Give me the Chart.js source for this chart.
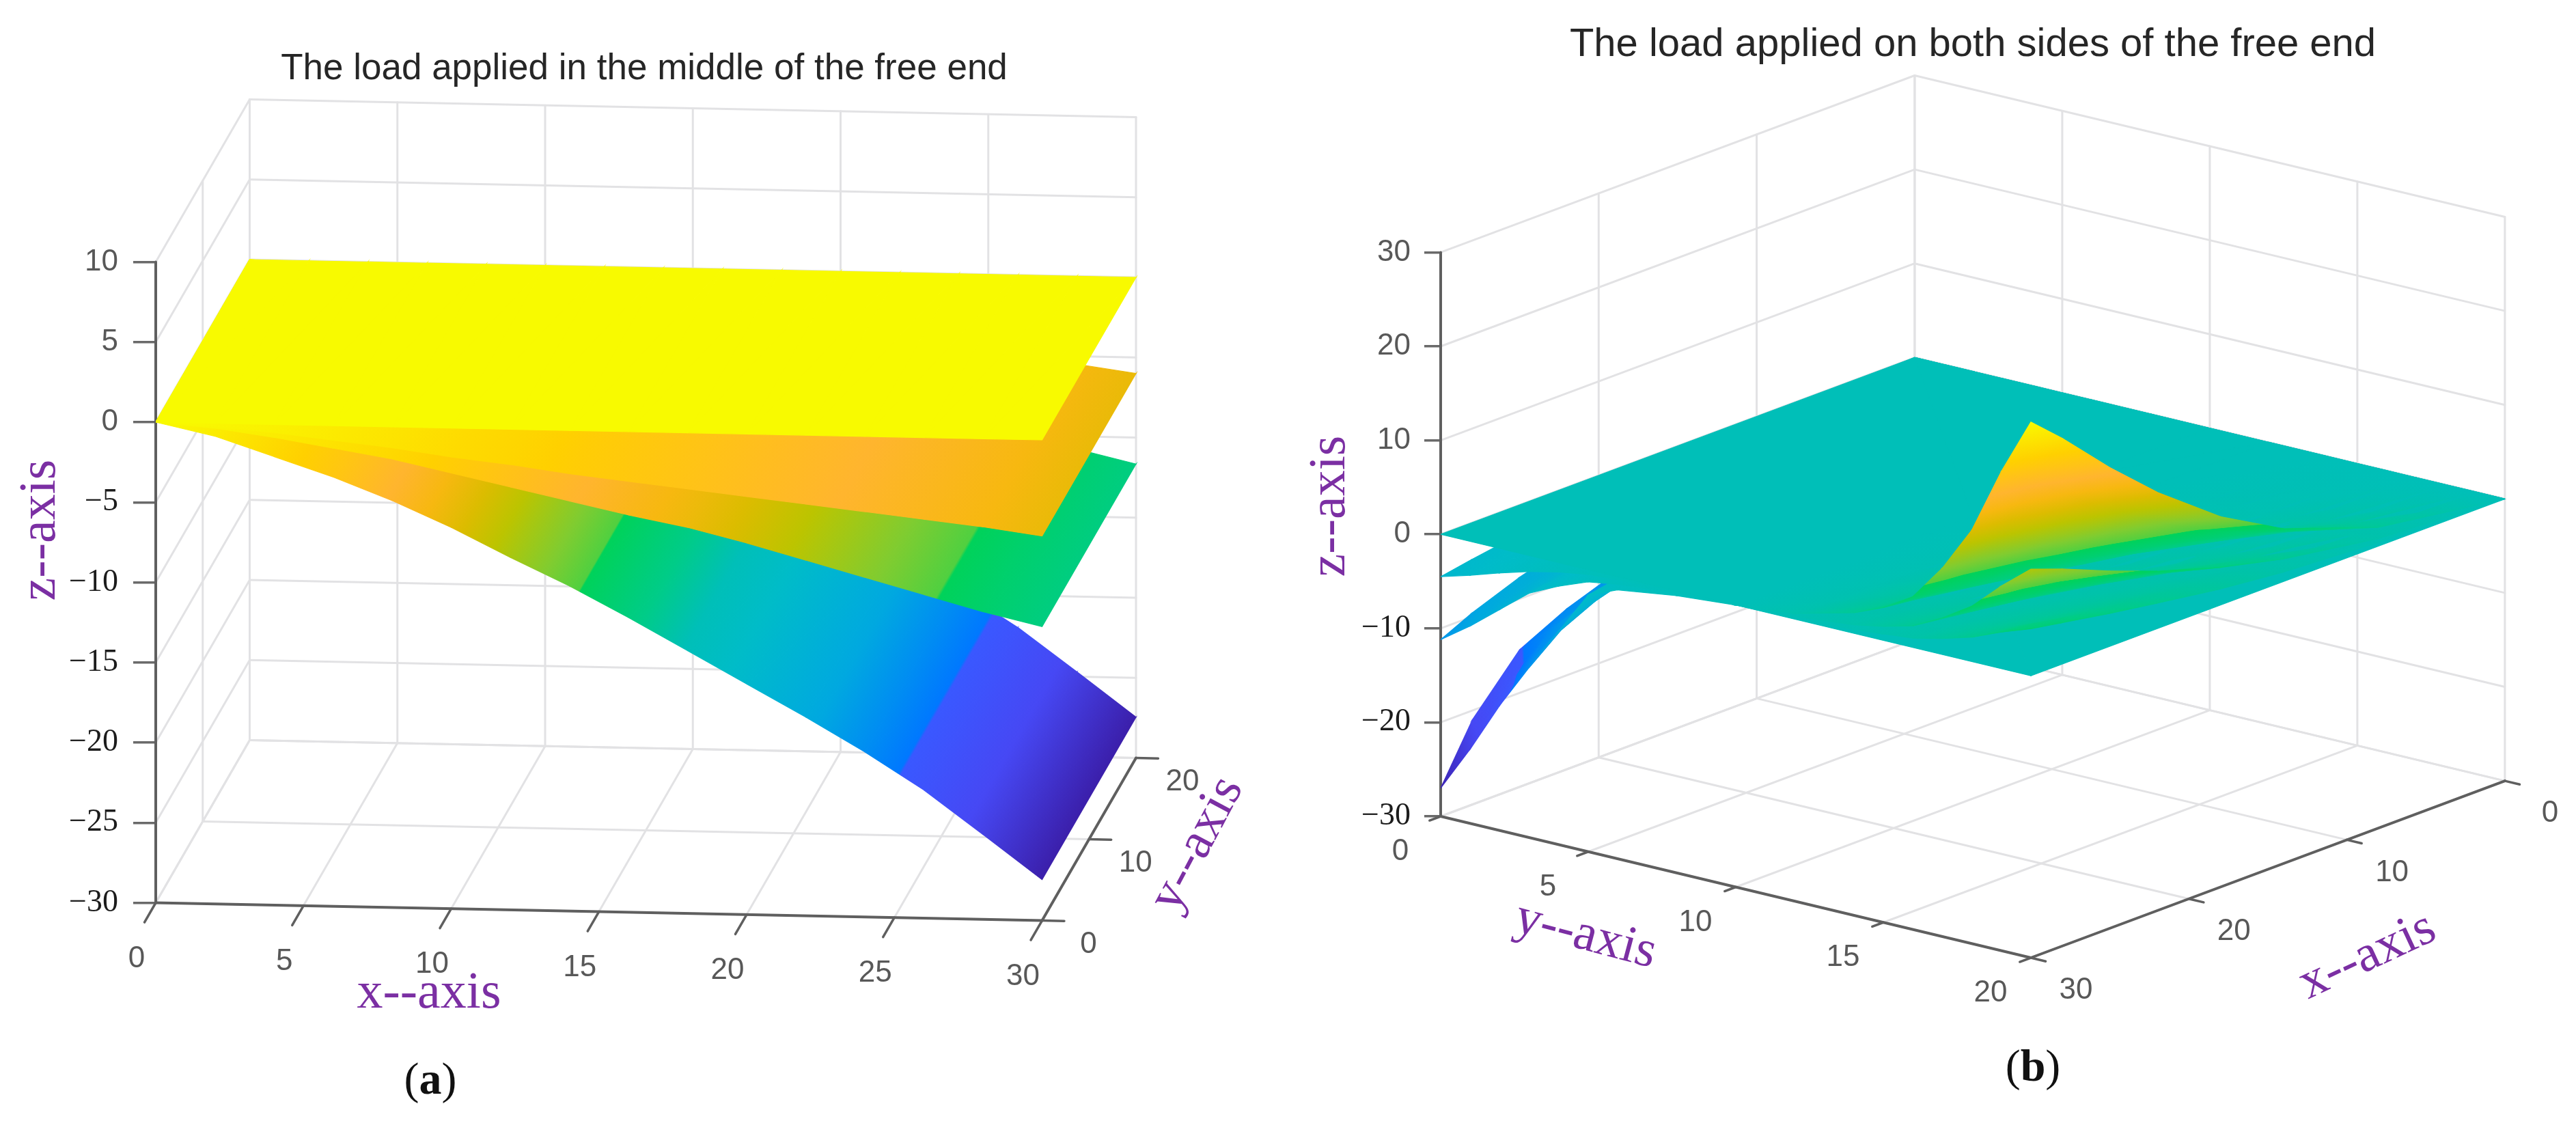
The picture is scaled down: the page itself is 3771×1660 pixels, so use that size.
<!DOCTYPE html>
<html><head><meta charset="utf-8">
<script src="https://cdn.jsdelivr.net/npm/chart.js@4"></script>
<style>html,body{margin:0;padding:0;background:#fff;width:3771px;height:1660px;overflow:hidden}
canvas{position:absolute;top:0}</style></head><body>
<canvas id="pa" width="1886" height="1660" style="left:0"></canvas>
<canvas id="pb" width="1976" height="1660" style="left:1900px"></canvas>
<script>
// ---------- text ----------
const titleA = "The load applied in the middle of the free end";
const titleB = "The load applied on both sides of the free end";
// ---------- tick values ----------
const xTicksA = [0,5,10,15,20,25,30];
const yTicksA = [0,10,20];
const zTicksA = [-30,-25,-20,-15,-10,-5,0,5,10];
const xTicksB = [0,10,20,30];
const yTicksB = [0,5,10,15,20];
const zTicksB = [-30,-20,-10,0,10,20,30];
// ---------- panel (a): deflection z along x, uniform over y ----------
const xStationsA = [0,2,4,6,8,10,12,14,16,18,20,22,24,26,28,30];
const yEdgesA = [0,20];
const aSheet1 = [0,0,0,0,0,0,0,0,0,0,0,0,0,0,0,0];
const aSheet2 = [0,-.2,-.5,-.9,-1.3,-1.8,-2.2,-2.7,-3.1,-3.5,-3.9,-4.3,-4.7,-5.1,-5.5,-6];
const aSheet3 = [0,-.3,-.8,-1.4,-2,-2.8,-3.6,-4.4,-5.2,-5.9,-6.8,-7.8,-8.8,-9.8,-10.8,-11.65];
const aSheet4 = [0,-.8,-2,-3.2,-4.6,-6.2,-8,-9.7,-11.6,-13.6,-15.6,-17.6,-19.7,-22,-24.7,-27.45];
// ---------- panel (b): z by distance from the loaded edge (rows) and x (columns) ----------
const xStationsB = [0,8,14,18,22,25,28,30];
const edgeDistB = [0,1,2,3,4,5,6,8,10];
const bNeg4 = [[0,-2,-6,-10.5,-12.9,-15.4,-21,-27],[0,-1.6,-4.9,-8.6,-10.6,-12.6,-17.2,-22.1],[0,-1.2,-3.7,-6.5,-8,-9.5,-13,-16.7],[0,-.9,-2.6,-4.6,-5.7,-6.8,-9.2,-11.9],[0,-.5,-1.6,-2.8,-3.5,-4.2,-5.7,-7.3],[0,-.2,-.6,-1.1,-1.3,-1.5,-2.1,-2.7],[0,-.1,-.3,-.5,-.6,-.8,-1,-1.4],[0,0,-.1,-.2,-.3,-.3,-.4,-.5],[0,0,0,0,0,0,0,0]];
const bNeg3 = [[0,-.8,-2.5,-4.4,-6.2,-7.7,-9.6,-11.2],[0,-.6,-2,-3.5,-5,-6.2,-7.7,-9],[0,-.5,-1.5,-2.6,-3.6,-4.5,-5.6,-6.5],[0,-.3,-.9,-1.6,-2.2,-2.8,-3.5,-4],[0,-.2,-.6,-1,-1.4,-1.7,-2.1,-2.5],[0,-.1,-.3,-.5,-.7,-.9,-1.2,-1.3],[0,-.1,-.2,-.3,-.4,-.5,-.7,-.8],[0,0,-.1,-.1,-.1,-.2,-.2,-.2],[0,0,0,0,0,0,0,0]];
const bNeg2 = [[0,-.3,-1,-1.8,-2.5,-3.1,-3.9,-4.5],[0,-.3,-.8,-1.4,-2,-2.5,-3.1,-3.6],[0,-.2,-.6,-1,-1.4,-1.8,-2.2,-2.6],[0,-.1,-.4,-.7,-.9,-1.1,-1.4,-1.7],[0,-.1,-.2,-.4,-.6,-.7,-.9,-1],[0,0,-.1,-.2,-.3,-.4,-.5,-.5],[0,0,-.1,-.1,-.2,-.2,-.3,-.3],[0,0,0,0,-.1,-.1,-.1,-.1],[0,0,0,0,0,0,0,0]];
const bPos4 = [[0,2,5.6,9.4,14.5,19,24,27],[0,1.6,4.4,7.3,11.3,14.8,18.7,21],[0,1,2.9,4.9,7.5,9.9,12.5,14],[0,.7,1.9,3.2,4.9,6.5,8.2,9.2],[0,.4,1.1,1.9,2.9,3.8,4.8,5.4],[0,.3,.7,1.2,1.9,2.5,3.1,3.5],[0,.2,.4,.8,1.2,1.5,1.9,2.2],[0,0,.1,.2,.3,.4,.5,.6],[0,0,0,0,0,0,0,0]];
const bPos3 = [[0,.8,2.4,4,6.1,8,10.1,11.35],[0,.7,1.8,3.1,4.8,6.2,7.9,8.8],[0,.4,1.2,2.1,3.2,4.2,5.3,5.9],[0,.3,.8,1.3,2.1,2.7,3.4,3.9],[0,.2,.5,.8,1.2,1.6,2,2.3],[0,.1,.3,.5,.8,1,1.3,1.5],[0,.1,.2,.3,.5,.6,.8,.9],[0,0,0,.1,.1,.2,.2,.3],[0,0,0,0,0,0,0,0]];
const bPos2 = [[0,.4,1,1.7,2.7,3.5,4.4,5],[0,.3,.8,1.4,2.1,2.7,3.5,3.9],[0,.2,.5,.9,1.4,1.8,2.3,2.6],[0,.1,.4,.6,.9,1.2,1.5,1.7],[0,.1,.2,.4,.5,.7,.9,1],[0,.1,.1,.2,.4,.5,.6,.7],[0,0,.1,.1,.2,.3,.4,.4],[0,0,0,0,.1,.1,.1,.1],[0,0,0,0,0,0,0,0]];
// ---------- colour map ----------
const cmapLevels = [-27.5,-24,-21.1,-21,-18,-15,-13.5,-12,-10.05,-10,-9,-7.5,-6.5,-5.5,-4.5,-2.5,-1,0];
const cmapColors = ['#3b1eaa','#4648f4','#3a58ff','#0078ff','#00a8e0','#00bcc8','#00bfb8','#00cc88','#00d25a','#50d040','#80cc30','#bcc400','#dcbc00','#f7b810','#ffb52e','#ffd000','#fce800','#f8fa00'];

const GRID='#e2e2e4', AXIS='#5f5f5f', PURPLE='#7b2fa3', TICKTXT='#585858';

function hex(c){return [1,3,5].map(i=>parseInt(c.substr(i,2),16));}
function cmapAt(v){
  if(v<=cmapLevels[0])return cmapColors[0];
  const n=cmapLevels.length;
  if(v>=cmapLevels[n-1])return cmapColors[n-1];
  for(let i=0;i<n-1;i++){
    if(v<=cmapLevels[i+1]){
      const t=(v-cmapLevels[i])/(cmapLevels[i+1]-cmapLevels[i]);
      const a=hex(cmapColors[i]),b=hex(cmapColors[i+1]);
      return 'rgb('+a.map((q,k)=>Math.round(q+(b[k]-q)*t)).join(',')+')';
    }
  }
}
// a view: how a unit of each data axis projects onto the page
const viewA={canvasLeft:0,right:1886,chartTop:140,chartBottom:1460,ox:228,oy:1321.5,x0:0,xdx:43.25,xdy:.867,ydx:6.875,ydy:-11.9,zs:23.45,
  colour:z=>z};
const viewB={canvasLeft:1900,right:3876,chartTop:102,chartBottom:1460,ox:2109,oy:1195,x0:30,xdx:-23.13,xdy:8.63,ydx:43.2,ydy:10.35,zs:13.76,
  colour:z=>(z-27)/2};
function proj(v,x,y,z){
  const dx=x-v.x0;
  return {x:v.ox+dx*v.xdx+y*v.ydx, y:z-(dx*v.xdy+y*v.ydy)/v.zs};
}
function seg(v,a,b,color,width){
  return {data:[proj(v,a[0],a[1],a[2]),proj(v,b[0],b[1],b[2])],showLine:true,borderColor:color,borderWidth:width,
    pointRadius:0,fill:false,clip:false,borderCapStyle:'round'};
}
function triFill(v,t,zs){
  return function(c){
    const ch=c.chart,sx=ch.scales.x,sy=ch.scales.y;
    const zmin=Math.min(...zs),zmax=Math.max(...zs);
    const mean=(zs[0]+zs[1]+zs[2])/3;
    if(!sx||!sy||!ch.chartArea)return cmapAt(v.colour(mean));
    const P=t.map(p=>[sx.getPixelForValue(p.x),sy.getPixelForValue(p.y)]);
    const ax=P[1][0]-P[0][0],ay=P[1][1]-P[0][1],bx=P[2][0]-P[0][0],by=P[2][1]-P[0][1];
    const det=ax*by-ay*bx;
    if(!Number.isFinite(det)||Math.abs(det)<1e-3||zmax-zmin<1e-6)return cmapAt(v.colour(mean));
    const d1=zs[1]-zs[0],d2=zs[2]-zs[0];
    const gx=(d1*by-d2*ay)/det,gy=(ax*d2-bx*d1)/det,g2=gx*gx+gy*gy;
    const s=(zmin-zs[0])/g2,e=(zmax-zs[0])/g2;
    const co=[P[0][0]+gx*s,P[0][1]+gy*s,P[0][0]+gx*e,P[0][1]+gy*e];
    if(!co.every(Number.isFinite))return cmapAt(v.colour(mean));
    const gr=ch.ctx.createLinearGradient(co[0],co[1],co[2],co[3]);
    const cmin=v.colour(zmin),cmax=v.colour(zmax);
    gr.addColorStop(0,cmapAt(cmin));
    cmapLevels.forEach((l,i)=>{if(l>cmin&&l<cmax)gr.addColorStop((l-cmin)/(cmax-cmin),cmapColors[i]);});
    gr.addColorStop(1,cmapAt(cmax));
    return gr;
  };
}
function tri(v,a,b,c){
  const t=[proj(v,...a),proj(v,...b),proj(v,...c)];
  const zs=[a[2],b[2],c[2]];
  const f=triFill(v,t,zs);
  // nearness to the camera along the viewing direction, used for back-to-front painting
  const near=[a,b,c].reduce((s,p)=>s+(v.near?v.near[0]*p[0]+v.near[1]*p[1]+v.near[2]*p[2]:0),0)/3;
  return {data:[t[0],t[1],t[2],t[0]],showLine:true,fill:'shape',backgroundColor:f,borderColor:f,borderWidth:1.2,pointRadius:0,nearness:near};
}
// surface built from rows ys[] of z over xs[]
function surface(v,xs,ys,rows,out){
  for(let j=0;j<ys.length-1;j++)for(let i=0;i<xs.length-1;i++){
    const A=[xs[i],ys[j],rows[j][i]],B=[xs[i+1],ys[j],rows[j][i+1]],
          C=[xs[i+1],ys[j+1],rows[j+1][i+1]],D=[xs[i],ys[j+1],rows[j+1][i]];
    out.push(tri(v,A,B,C));out.push(tri(v,A,C,D));
  }
}
function box(v,xT,yT,zT,wallX,wallY){
  const o=[],zLo=zT[0],zHi=zT[zT.length-1],xLo=xT[0],xHi=xT[xT.length-1],yLo=yT[0],yHi=yT[yT.length-1];
  xT.forEach(x=>{o.push(seg(v,[x,yLo,zLo],[x,yHi,zLo],GRID,3));o.push(seg(v,[x,wallY,zLo],[x,wallY,zHi],GRID,3));});
  yT.forEach(y=>{o.push(seg(v,[xLo,y,zLo],[xHi,y,zLo],GRID,3));o.push(seg(v,[wallX,y,zLo],[wallX,y,zHi],GRID,3));});
  zT.forEach(z=>{o.push(seg(v,[xLo,wallY,z],[xHi,wallY,z],GRID,3));o.push(seg(v,[wallX,yLo,z],[wallX,yHi,z],GRID,3));});
  return o;
}
function axes(v,xT,yT,zT,axisXatY,axisYatX,zAxisX,zAxisY,xTickDy,yTickDx){
  const o=[],z0=zT[0];
  o.push(seg(v,[xT[0],axisXatY,z0],[xT[xT.length-1],axisXatY,z0],AXIS,4));
  o.push(seg(v,[axisYatX,yT[0],z0],[axisYatX,yT[yT.length-1],z0],AXIS,4));
  o.push(seg(v,[zAxisX,zAxisY,z0],[zAxisX,zAxisY,zT[zT.length-1]],AXIS,4));
  xT.forEach(x=>o.push(seg(v,[x,axisXatY,z0],[x,axisXatY+xTickDy,z0],AXIS,3.5)));
  yT.forEach(y=>o.push(seg(v,[axisYatX,y,z0],[axisYatX+yTickDx,y,z0],AXIS,3.5)));
  return o;
}
function labelsPlugin(v,cfg){
  return {id:'labels3d',afterDraw(ch){
    const c=ch.ctx,sx=ch.scales.x,sy=ch.scales.y;
    c.save();c.textAlign='center';c.textBaseline='middle';c.fillStyle=TICKTXT;c.font=cfg.tickFont;
    cfg.xT.forEach(x=>{const p=proj(v,x,cfg.axisXatY,cfg.z0);
      c.fillText(String(x),sx.getPixelForValue(p.x)+cfg.xOff[0],sy.getPixelForValue(p.y)+cfg.xOff[1]);});
    cfg.yT.forEach(y=>{const p=proj(v,cfg.axisYatX,y,cfg.z0);
      c.fillText(String(y),sx.getPixelForValue(p.x)+cfg.yOff[0],sy.getPixelForValue(p.y)+cfg.yOff[1]);});
    c.fillStyle=PURPLE;c.font='76px "Liberation Serif"';
    cfg.titles.forEach(t=>{c.save();c.translate(t[1]-v.canvasLeft,t[2]);c.rotate(t[3]*Math.PI/180);c.fillText(t[0],0,0);c.restore();});
    // sub-figure tag
    const parts=[['(','66px "Liberation Serif"'],[cfg.tag,'bold 66px "Liberation Serif"'],[')','66px "Liberation Serif"']];
    let w=0;parts.forEach(p=>{c.font=p[1];w+=c.measureText(p[0]).width;});
    let px=cfg.tagPos[0]-v.canvasLeft-w/2;
    c.fillStyle='#111';c.textAlign='left';
    parts.forEach(p=>{c.font=p[1];c.fillText(p[0],px,cfg.tagPos[1]);px+=c.measureText(p[0]).width;});
    c.restore();
  }};
}
function zFromPixel(v,py){return -30+(v.oy-py)/v.zs;}
function build(id,v,title,tFont,tPad,datasets,zT,zLen,zPad,plugin){
  datasets.forEach((d,i)=>{d.order=datasets.length-i;});
  new Chart(document.getElementById(id),{
    type:'scatter',
    data:{datasets},
    options:{
      responsive:false,animation:false,events:[],
      layout:{padding:{top:0,left:0,right:0,bottom:1660-v.chartBottom}},
      plugins:{legend:{display:false},tooltip:{enabled:false},
        title:{display:true,text:title,color:'#262626',font:{family:'"Liberation Sans"',size:tFont,weight:'normal',lineHeight:1.2},padding:tPad}},
      scales:{
        x:{type:'linear',display:false,min:v.ox,max:v.right},
        y:{type:'linear',position:'left',min:zFromPixel(v,v.chartBottom),max:zFromPixel(v,v.chartTop),
          afterBuildTicks(s){s.ticks=zT.map(z=>({value:z}));},
          afterFit(s){s.width=v.ox-v.canvasLeft;},
          border:{display:false},
          grid:{drawOnChartArea:false,drawTicks:true,tickLength:zLen,tickColor:'#6a6a6a',lineWidth:3.5},
          ticks:{autoSkip:false,padding:zPad,
            callback:z=>(z<0?'\u2212'+(-z):String(z)),
            color:c=>(c.tick&&c.tick.value<0)?'#1c1c1c':TICKTXT,
            font:c=>c.tick&&c.tick.value<0?{family:'"Liberation Serif"',size:46}:{family:'"Liberation Sans"',size:44}}
        }
      }
    },
    plugins:[plugin]
  });
}
// ---------- panel (a) ----------
const dsA=[];
dsA.push(...box(viewA,xTicksA,yTicksA,zTicksA,0,20));
dsA.push(...axes(viewA,xTicksA,yTicksA,zTicksA,0,30,0,0,-2.4,.75));
[aSheet4,aSheet3,aSheet2,aSheet1].forEach(s=>surface(viewA,xStationsA,yEdgesA,[s,s],dsA));
build('pa',viewA,titleA,53,{top:70,bottom:6.4},dsA,zTicksA,33,22,labelsPlugin(viewA,{
  tickFont:'44px "Liberation Sans"',xT:xTicksA,yT:yTicksA,z0:-30,axisXatY:0,axisYatX:30,xOff:[-28,82],yOff:[68,35],
  titles:[['x--axis',628,1455,0],['z--axis',60,776,-90],['y--axis',1753,1236,-62]],tag:'a',tagPos:[630,1584]}));
// ---------- panel (b) ----------
viewB.near=[1,.535,1.03];
const dsB=[];
dsB.push(...box(viewB,xTicksB,yTicksB,zTicksB,0,0));
dsB.push(...axes(viewB,xTicksB,yTicksB,zTicksB,20,30,30,0,.5,.7));
const yNeg=edgeDistB, yPos=edgeDistB.map(d=>20-d);
const belowB=[],aboveB=[];
[bNeg4,bNeg3,bNeg2].forEach(t=>surface(viewB,xStationsB,yNeg,t,belowB));
[bPos4,bPos3,bPos2].forEach(t=>surface(viewB,xStationsB,yPos,t,aboveB));
belowB.sort((p,q)=>p.nearness-q.nearness);
aboveB.sort((p,q)=>p.nearness-q.nearness);
dsB.push(...belowB);
dsB.push(tri(viewB,[0,0,0],[30,0,0],[30,20,0]));
dsB.push(tri(viewB,[0,0,0],[30,20,0],[0,20,0]));
dsB.push(...aboveB);
build('pb',viewB,titleB,58,{top:31,bottom:1.4},dsB,zTicksB,24,20,labelsPlugin(viewB,{
  tickFont:'44px "Liberation Sans"',xT:xTicksB,yT:yTicksB,z0:-30,axisXatY:20,axisYatX:30,xOff:[66,48],yOff:[-59,52],
  titles:[['y--axis',2321,1370,15],['x--axis',3466,1400,-25],['z--axis',1948,741,-90]],tag:'b',tagPos:[2976,1565]}));
</script>
</body></html>
